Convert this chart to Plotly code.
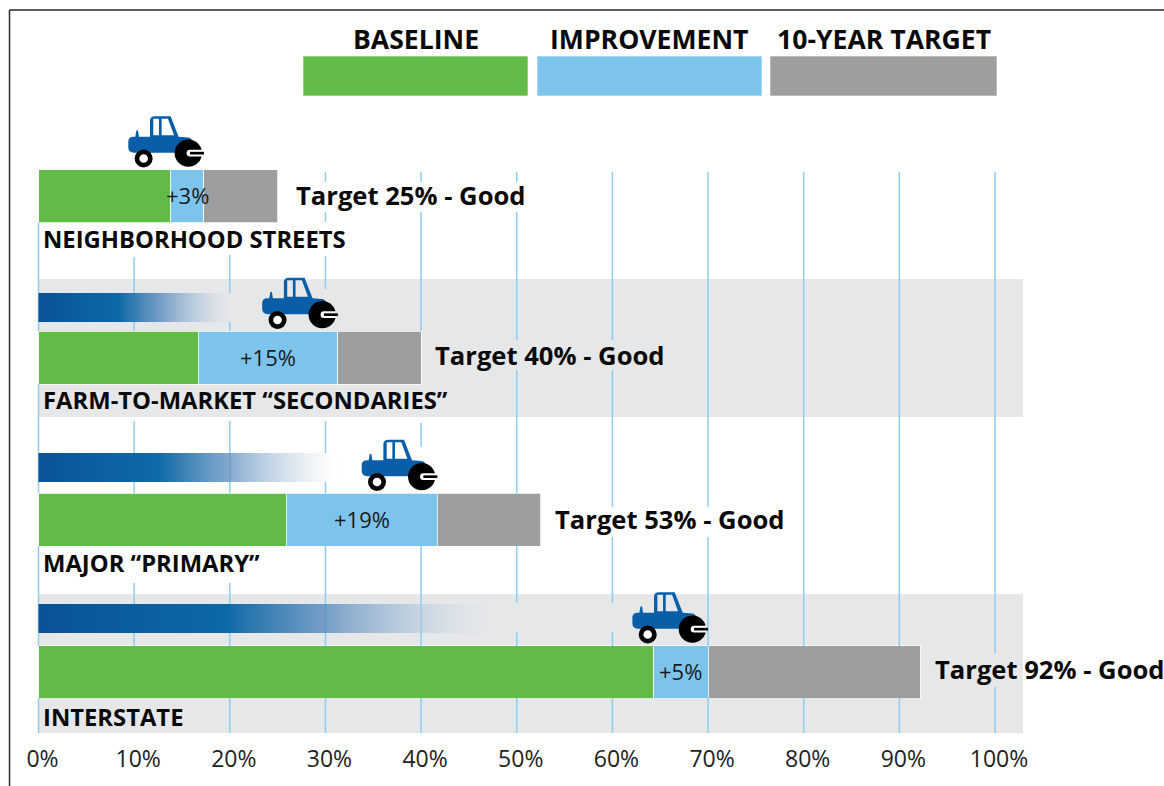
import plotly.graph_objects as go

# ---- data ----
categories = ["NEIGHBORHOOD STREETS", "FARM-TO-MARKET “SECONDARIES”", "MAJOR “PRIMARY”", "INTERSTATE"]
baseline = [13.8, 16.7, 25.9, 64.3]
improvement = [3.5, 14.6, 15.8, 5.7]
target_total = [25.0, 40.0, 52.5, 92.2]
improvement_labels = ["+3%", "+15%", "+19%", "+5%"]
target_labels = ["Target 25% - Good", "Target 40% - Good", "Target 53% - Good", "Target 92% - Good"]
progress_end = [None, 21.0, 31.5, 49.0]
tick_values = [0, 10, 20, 30, 40, 50, 60, 70, 80, 90, 100]
tick_labels = ["0%", "10%", "20%", "30%", "40%", "50%", "60%", "70%", "80%", "90%", "100%"]
legend_names = ["BASELINE", "IMPROVEMENT", "10-YEAR TARGET"]

# ---- layout constants (pixels of the 1164x786 page) ----
W, H = 1164, 786
X0_PX, PX_PER_PCT = 38.5, 9.565
def px2x(px):
    return (px - X0_PX) / PX_PER_PCT

GREEN, BLUE, GRAY = "#62bb46", "#7cc4ec", "#9d9ea0"
BAND, GRID, TRACTOR = "#e6e7e8", "#8ccdf0", "#0a5ea8"
FONT = "Open Sans"
BAR_Y = [196, 357.5, 519.5, 672]
BAR_H = 53
PROGRESS_Y = [None, (293, 322), (453, 482), (604, 633)]
LABEL_Y = [238.5, 399.5, 562.5, 716.5]
TARGET_Y = [195, 355, 519, 669]
TARGET_SHIFT = [18, 14, 14, 15]
BANDS = [(279, 417), (594, 733)]
GRID_TOP, GRID_BOTTOM = 172, 733
GRID_GAPS = {
    0: [(172, 223), (331, 384), (493, 546), (646, 698)],
    10: [(172, 257), (384, 421), (331, 384), (493, 583), (646, 733)],
    20: [(172, 255), (293, 322), (331, 421), (493, 583), (646, 698)],
    30: [(182, 212), (222, 256), (289, 421), (453, 482), (493, 546), (646, 698)],
    40: [(182, 212), (331, 423), (447, 546), (646, 698)],
    50: [(182, 212), (340, 370), (493, 546), (603, 632), (646, 698)],
    60: [(340, 370), (507, 537), (603, 632), (646, 698)],
    70: [(507, 537), (646, 698)],
    80: [(646, 698)],
    90: [(646, 698)],
    100: [(653, 687)],
}

fig = go.Figure()

# grid segments
gx, gy = [], []
for t in tick_values:
    y = GRID_TOP
    for a, b in sorted(GRID_GAPS[t]):
        if a > y:
            gx += [t, t, None]
            gy += [y, a, None]
        y = max(y, b)
    if y < GRID_BOTTOM:
        gx += [t, t, None]
        gy += [y, GRID_BOTTOM, None]
fig.add_trace(go.Scatter(x=gx, y=gy, mode="lines", line=dict(color=GRID, width=1.5), hoverinfo="skip"))

# stacked bars
edge = dict(color="rgba(255,255,255,0.75)", width=1)
remainder = [t - b - i for t, b, i in zip(target_total, baseline, improvement)]
for vals, col in ((baseline, GREEN), (improvement, BLUE), (remainder, GRAY)):
    fig.add_trace(go.Bar(y=BAR_Y, x=vals, orientation="h", width=BAR_H,
                         marker=dict(color=col, line=edge), hoverinfo="skip"))

# fading progress bars
for end, yy in zip(progress_end, PROGRESS_Y):
    if end is None:
        continue
    fig.add_trace(go.Scatter(
        x=[0, end, end, 0, 0], y=[yy[0], yy[0], yy[1], yy[1], yy[0]],
        mode="lines", line=dict(width=0), fill="toself", hoverinfo="skip",
        fillgradient=dict(type="horizontal", colorscale=[
            [0, "rgba(0,76,148,0.96)"], [0.4, "rgba(0,96,162,0.94)"],
            [0.62, "rgba(90,140,190,0.78)"], [0.85, "rgba(190,208,226,0.5)"],
            [1, "rgba(230,235,240,0)"]]),
    ))

shapes, ann = [], []

# page frame
shapes.append(dict(type="line", xref="paper", yref="paper", x0=9.5 / W, x1=1, y0=1 - 10 / H, y1=1 - 10 / H,
                   line=dict(color="#2a2a2a", width=1.5)))
shapes.append(dict(type="line", xref="paper", yref="paper", x0=9.5 / W, x1=9.5 / W, y0=0, y1=1 - 10 / H,
                   line=dict(color="#2a2a2a", width=1.5)))

# grey bands
for a, b in BANDS:
    shapes.append(dict(type="rect", layer="below", x0=0, x1=px2x(1023), y0=a, y1=b, fillcolor=BAND, line_width=0))

# legend swatches and names
for (a, b), col, name, cx in zip(((303, 528), (537, 762), (770, 997)), (GREEN, BLUE, GRAY), legend_names, (416, 649, 884)):
    shapes.append(dict(type="rect", x0=px2x(a), x1=px2x(b), y0=56, y1=96, fillcolor=col,
                       line=dict(color="rgba(255,255,255,0.6)", width=1)))
    ann.append(dict(x=px2x(cx), y=39, text=f"<b>{name}</b>", showarrow=False, xanchor="center", yanchor="middle",
                    font=dict(family=FONT, size=26.6, color="#0a0a0a")))

# tractor icon: outline in icon units, three units per pixel, origin at the icon's lower right
def u(x, y):
    return (x - 312) / 3, (208 - y) / 3
def path(cmds):
    out = []
    for c in cmds:
        if c == "Z":
            out.append("Z")
        else:
            letter, pts = c[0], c[1:]
            out.append(letter + " ".join("%.2f,%.2f" % u(*p) for p in pts))
    return " ".join(out)

BODY = path([("M", (85, 125)), ("Q", (85, 111), (98, 110)), ("L", (106, 110)), ("L", (109, 92)), ("L", (114, 90)),
             ("L", (117, 110)), ("L", (150, 110)), ("L", (150, 62)), ("Q", (150, 48), (165, 48)), ("L", (212, 48)),
             ("L", (236, 110)), ("L", (265, 112)), ("Q", (276, 114), (278, 125)), ("L", (235, 158)), ("L", (102, 158)),
             ("Q", (85, 156), (85, 142)), "Z",
             ("M", (160, 56)), ("L", (177, 56)), ("L", (177, 105)), ("L", (160, 105)), "Z",
             ("M", (185, 56)), ("L", (204, 56)), ("L", (222, 105)), ("L", (185, 105)), "Z"])
SLOT = path([("M", (306, 149)), ("L", (270, 149)), ("Q", (260, 149), (260, 159)), ("Q", (260, 169), (270, 169)),
             ("L", (306, 169)), "Z"])
BAR = path([("M", (270, 155)), ("L", (312, 155)), ("L", (312, 163)), ("L", (270, 163)), "Z"])

def circle(cx, cy, r, col, **anchor):
    x, y = u(cx, cy)
    return dict(type="circle", x0=x - r / 3, x1=x + r / 3, y0=y - r / 3, y1=y + r / 3,
                fillcolor=col, line_width=0, **anchor)

for b, i, by in zip(baseline, improvement, BAR_Y):
    anchor = dict(xref="x", yref="y", xsizemode="pixel", ysizemode="pixel", xanchor=b + i, yanchor=by - BAR_H / 2)
    shapes.append(dict(type="path", path=BODY, fillcolor=TRACTOR, line_width=0, **anchor))
    shapes.append(circle(131, 175, 27, "#000000", **anchor))
    shapes.append(circle(131, 175, 13, "#ffffff", **anchor))
    shapes.append(circle(265, 159, 41, "#000000", **anchor))
    shapes.append(dict(type="path", path=SLOT, fillcolor="#ffffff", line_width=0, **anchor))
    shapes.append(dict(type="path", path=BAR, fillcolor="#000000", line_width=0, **anchor))

# row texts
for k, name in enumerate(categories):
    ann.append(dict(x=px2x(44), y=LABEL_Y[k], text=f"<b>{name}</b>", showarrow=False, xanchor="left", yanchor="middle",
                    xshift=-3, font=dict(family=FONT, size=23.8, color="#0a0a0a")))
    ann.append(dict(x=target_total[k], y=TARGET_Y[k], xshift=TARGET_SHIFT[k] - 2, text=f"<b>{target_labels[k]}</b>",
                    showarrow=False, xanchor="left", yanchor="middle",
                    font=dict(family=FONT, size=25.6, color="#0a0a0a")))
    ann.append(dict(x=baseline[k] + improvement[k] / 2, y=BAR_Y[k] - 1, text=improvement_labels[k], showarrow=False,
                    xanchor="center", yanchor="middle", font=dict(family=FONT, size=22, color="#1a1a1a")))

fig.update_layout(
    width=W, height=H, margin=dict(l=0, r=0, t=0, b=0), autosize=False,
    paper_bgcolor="white", plot_bgcolor="white", barmode="stack", showlegend=False, hovermode=False,
    shapes=shapes, annotations=ann,
    xaxis=dict(range=[px2x(0), px2x(W)], domain=[0, 1], anchor="free", position=1 - 743 / H,
               tickmode="array", tickvals=tick_values, ticktext=tick_labels, showgrid=False, zeroline=False,
               showline=False, ticks="", ticklabelshift=4, tickfont=dict(family=FONT, size=23, color="#222222")),
    yaxis=dict(range=[H, 0], domain=[0, 1], visible=False, showgrid=False, zeroline=False),
)
fig.write_html("out.html", config={"displayModeBar": False},
               post_script="document.body.style.margin='0';document.documentElement.style.overflow='hidden';")
